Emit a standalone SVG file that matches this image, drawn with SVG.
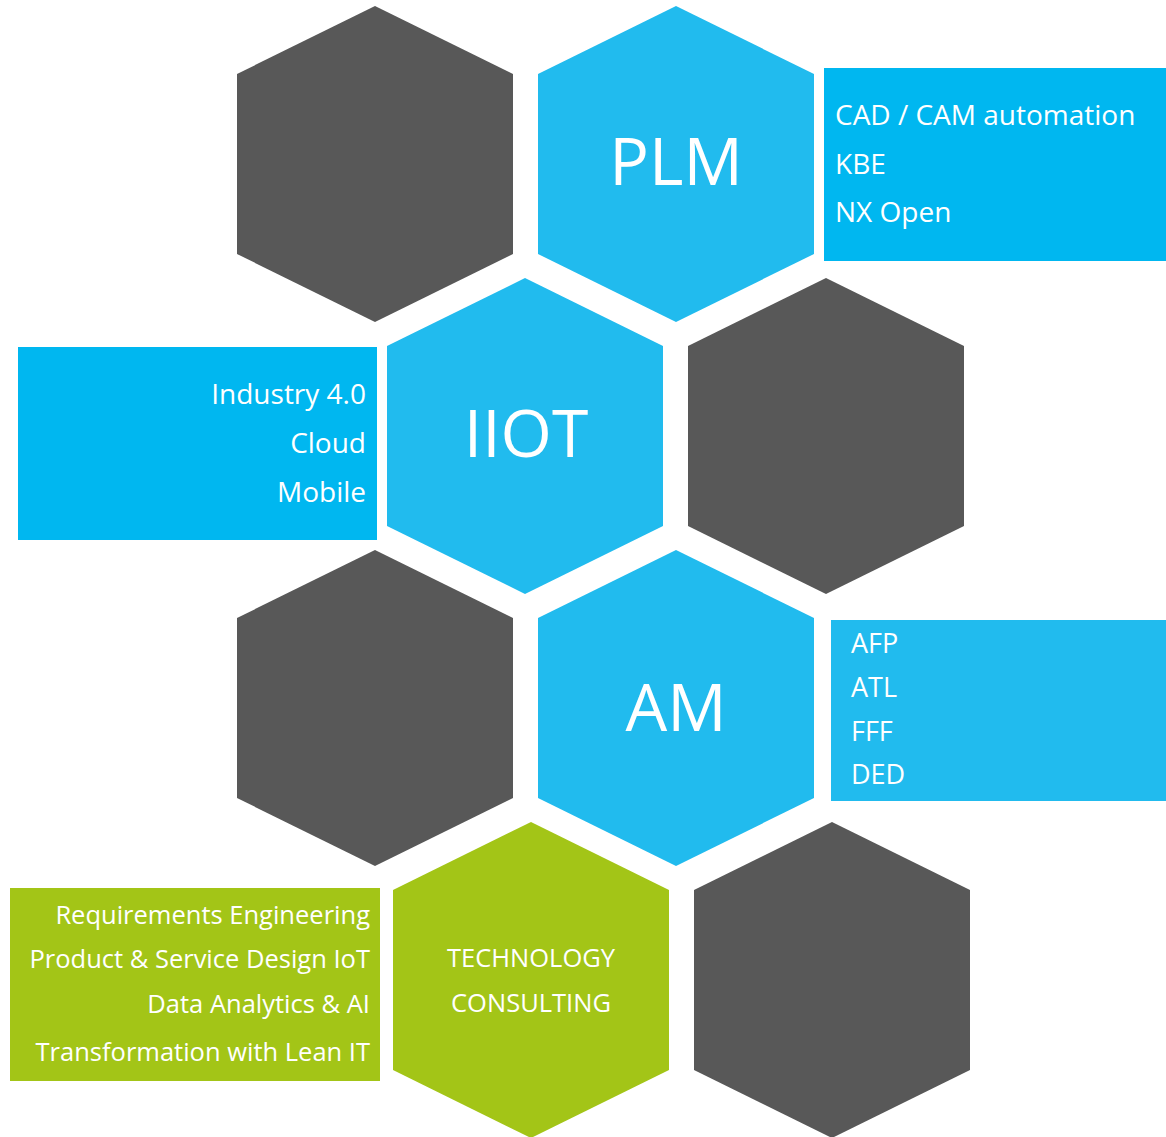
<svg xmlns="http://www.w3.org/2000/svg" xmlns:xlink="http://www.w3.org/1999/xlink" width="1166" height="1137" viewBox="0 0 1166 1137">
  <style>
    .dark { fill: #585858; }
    .blue { fill: #21BBEE; }
    .green { fill: #A3C517; }
    .boxA { fill: #00B7F0; }
    .boxB { fill: #21BBEE; }
    .boxG { fill: #A3C517; }
    text { font-family: "Open Sans", "Noto Sans", "Liberation Sans", sans-serif; fill: #FFFFFF; }
    .big { font-size: 66px; text-anchor: middle; }
    .item { font-size: 28px; }
    .itemS { font-size: 25.5px; }
    .end { text-anchor: end; }
    .mid { text-anchor: middle; }
  </style>
  <defs>
    <path id="hex" d="M0,-158 L138,-90 L138,90 L0,158 L-138,90 L-138,-90 Z"/>
  </defs>
  <rect width="1166" height="1137" fill="#FFFFFF"/>

  <g id="hex-dark-1"><use xlink:href="#hex" href="#hex" class="dark" transform="translate(375,164)"/></g>

  <g id="plm">
    <use xlink:href="#hex" href="#hex" class="blue" transform="translate(676,164)"/>
    <text class="big" x="676" y="185">PLM</text>
  </g>
  <g id="plm-box">
    <rect class="boxA" x="824" y="68" width="342" height="193"/>
    <text class="item" x="835" y="125">CAD / CAM automation</text>
    <text class="item" x="835" y="174">KBE</text>
    <text class="item" x="835" y="222">NX Open</text>
  </g>

  <g id="iiot">
    <use xlink:href="#hex" href="#hex" class="blue" transform="translate(525,436)"/>
    <text class="big" x="526" y="457">IIOT</text>
  </g>
  <g id="iiot-box">
    <rect class="boxA" x="18" y="347" width="359" height="193"/>
    <text class="item end" x="366" y="404">Industry 4.0</text>
    <text class="item end" x="366" y="453">Cloud</text>
    <text class="item end" x="366" y="502">Mobile</text>
  </g>

  <g id="hex-dark-2"><use xlink:href="#hex" href="#hex" class="dark" transform="translate(826,436)"/></g>
  <g id="hex-dark-3"><use xlink:href="#hex" href="#hex" class="dark" transform="translate(375,708)"/></g>

  <g id="am">
    <use xlink:href="#hex" href="#hex" class="blue" transform="translate(676,708)"/>
    <text class="big" x="676" y="731">AM</text>
  </g>
  <g id="am-box">
    <rect class="boxB" x="831" y="620" width="335" height="181"/>
    <text class="item" x="851" y="653" style="font-size:27px">AFP</text>
    <text class="item" x="851" y="697" style="font-size:27px">ATL</text>
    <text class="item" x="851" y="741" style="font-size:27px">FFF</text>
    <text class="item" x="851" y="784" style="font-size:27px">DED</text>
  </g>

  <g id="technology-consulting">
    <use xlink:href="#hex" href="#hex" class="green" transform="translate(531,980)"/>
    <text class="itemS mid" x="531" y="967">TECHNOLOGY</text>
    <text class="itemS mid" x="531" y="1012">CONSULTING</text>
  </g>
  <g id="consulting-box">
    <rect class="boxG" x="10" y="888" width="370" height="193"/>
    <text class="itemS end" x="370" y="924">Requirements Engineering</text>
    <text class="itemS end" x="370" y="968">Product &amp; Service Design IoT</text>
    <text class="itemS end" x="370" y="1013">Data Analytics &amp; AI</text>
    <text class="itemS end" x="370" y="1061">Transformation with Lean IT</text>
  </g>

  <g id="hex-dark-4"><use xlink:href="#hex" href="#hex" class="dark" transform="translate(832,980)"/></g>

  <g id="connectors"></g>
</svg>
